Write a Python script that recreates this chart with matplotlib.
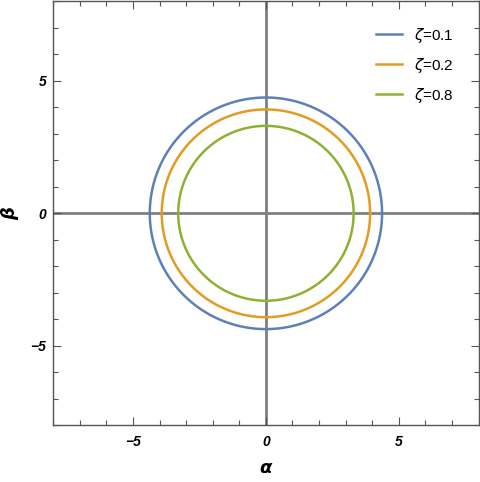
import numpy as np
import matplotlib
matplotlib.use("Agg")
import matplotlib.pyplot as plt
from matplotlib.ticker import MultipleLocator

# ---------------------- Daten ----------------------
zetas = [0.1, 0.2, 0.8]
radii = [4.37, 3.92, 3.30]
colors = ["#5E81B5", "#E19C24", "#8FB032"]
labels = [r"$\zeta$=" + str(z) for z in zetas]

theta = np.linspace(0, 2 * np.pi, 400)

fig = plt.figure(figsize=(4.8, 4.82), dpi=100)
ax = fig.add_axes([0.111, 0.1176, 0.886, 0.8797])

ax.axhline(0, color="#808080", lw=2.0, zorder=1)
ax.axvline(0, color="#808080", lw=2.0, zorder=1)

for r, c, lab in zip(radii, colors, labels):
    ax.plot(r * np.cos(theta), r * np.sin(theta), color=c, lw=1.8, label=lab, zorder=2)

ax.set_xlim(-8, 8)
ax.set_ylim(-8, 8)

ax.xaxis.set_major_locator(MultipleLocator(5))
ax.yaxis.set_major_locator(MultipleLocator(5))
ax.xaxis.set_minor_locator(MultipleLocator(1))
ax.yaxis.set_minor_locator(MultipleLocator(1))
ax.tick_params(which="both", direction="in", top=True, right=True,
               color="#555555", width=0.8)
ax.tick_params(which="major", length=6, labelsize=10)
ax.tick_params(which="minor", length=3.5)
ax.tick_params(axis="x", pad=7)
ax.tick_params(axis="y", pad=5)

for lab in ax.get_xticklabels() + ax.get_yticklabels():
    lab.set_fontweight("bold")
    lab.set_fontstyle("italic")
    lab.set_family("Liberation Sans")

for sp in ax.spines.values():
    sp.set_color("#555555")
    sp.set_linewidth(1.0)

ax.set_xlabel("α", fontsize=13, fontweight="bold", fontstyle="italic", labelpad=7)
ax.set_ylabel("β", fontsize=13, fontweight="bold", fontstyle="italic", labelpad=8)

ax.legend(loc="upper right", frameon=False, handlelength=1.7,
          handletextpad=0.8, labelspacing=0.72, bbox_to_anchor=(0.975, 0.975),
          prop={"family": "Liberation Sans", "size": 11})

fig.savefig("out.png", dpi=100)
